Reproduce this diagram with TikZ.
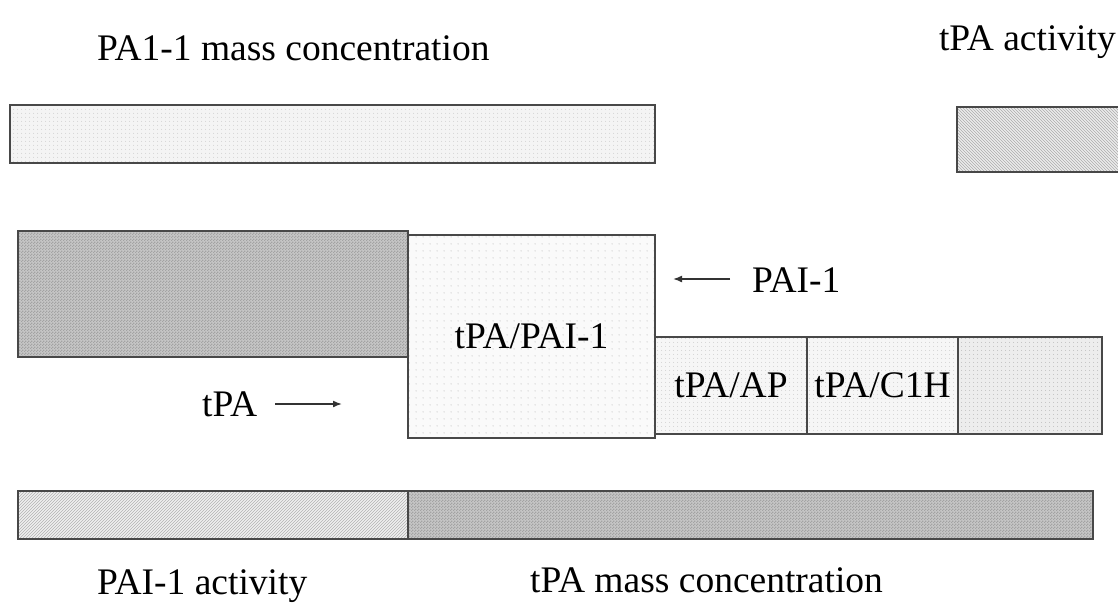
\documentclass[tikz,border=0pt]{standalone}
\usepackage{fontspec}
\setmainfont{Liberation Serif}
\usetikzlibrary{patterns,patterns.meta,arrows.meta}

\tikzdeclarepattern{
  name=sparsedots, type=uncolored,
  bounding box={(0pt,0pt) and (7pt,7pt)},
  tile size={(7pt,7pt)},
  code={\fill (3.5pt,3.5pt) circle (0.7pt);}
}
\tikzdeclarepattern{
  name=densedots, type=uncolored,
  bounding box={(0pt,0pt) and (4pt,4pt)},
  tile size={(4pt,4pt)},
  code={\fill (2pt,2pt) circle (0.6pt);}
}
\tikzdeclarepattern{
  name=checks, type=uncolored,
  bounding box={(0pt,0pt) and (3pt,3pt)},
  tile size={(3pt,3pt)},
  code={\fill (0pt,0pt) rectangle (1.5pt,1.5pt); \fill (1.5pt,1.5pt) rectangle (3pt,3pt);}
}

\definecolor{edge}{RGB}{72,72,72}

\tikzset{
  bar/.style={draw=edge, line width=1.4pt, inner sep=0pt, outer sep=0pt, anchor=north west,
              font=\fontsize{37.5}{40}\selectfont, text=black},
  lightdot/.style={preaction={fill=gray!9}, pattern=densedots, pattern color=gray!35},
  sparse/.style={preaction={fill=gray!4}, pattern=sparsedots, pattern color=gray!45},
  smalldot/.style={preaction={fill=gray!7}, pattern=densedots, pattern color=gray!40},
  heavydot/.style={preaction={fill=gray!14}, pattern=densedots, pattern color=gray!55},
  checker/.style={preaction={fill=gray!45}, pattern=checks, pattern color=gray!72},
  hatchA/.style={preaction={fill=gray!12}, pattern=north east lines, pattern color=gray!60},
  hatchB/.style={preaction={fill=gray!15}, pattern=north west lines, pattern color=gray!65},
  lbl/.style={font=\fontsize{37.5}{40}\selectfont, inner sep=0pt, text=black},
  ptr/.style={-{Latex[length=9pt,width=7pt]}, line width=1.6pt, draw=black!80}
}

\begin{document}
\begin{tikzpicture}[x=1pt,y=-1pt]
\useasboundingbox (0,0) rectangle (1118,603);
\fill[white] (0,0) rectangle (1118,603);

% top bars
\node[bar, lightdot, minimum width=645pt, minimum height=58pt] (massbar) at (10,105) {};
\node[bar, hatchB, minimum width=175pt, minimum height=65pt] (actbar) at (957,107) {};

% middle
\node[bar, checker, minimum width=390pt, minimum height=126pt] (tpablock) at (18,231) {};
\node[bar, sparse, minimum width=247pt, minimum height=203pt] (complex) at (408,235) {tPA/PAI-1};
\node[bar, smalldot, minimum width=152pt, minimum height=97pt] (ap) at (655,337) {tPA/AP};
\node[bar, smalldot, minimum width=151pt, minimum height=97pt] (c1h) at (807,337) {tPA/C1H};
\node[bar, heavydot, minimum width=144pt, minimum height=97pt] (rest) at (958,337) {};

% bottom bars
\node[bar, hatchA, minimum width=390pt, minimum height=48pt] (paiact) at (18,491) {};
\node[bar, checker, minimum width=685pt, minimum height=48pt] (tpamass) at (408,491) {};

% labels
\node[lbl, anchor=base west] (lblmass) at (97,60) {PA1-1 mass concentration};
\node[lbl, anchor=base east] (lblact) at (1116,50) {tPA activity};
\node[lbl, anchor=base west] (lbltpa) at (202,416) {tPA};
\node[lbl, anchor=base west] (lblpai) at (752,292) {PAI-1};
\node[lbl, anchor=base west] (lblpaiact) at (97,594) {PAI-1 activity};
\node[lbl, anchor=base west] (lbltpamass) at (530,592) {tPA mass concentration};

% arrows
\coordinate (tpatail) at (275,404);
\coordinate (tpatip) at (342,404);
\coordinate (paitail) at (730,279);
\coordinate (paitip) at (673,279);
\draw[ptr] (tpatail) -- (tpatip);
\draw[ptr] (paitail) -- (paitip);
\end{tikzpicture}
\end{document}
